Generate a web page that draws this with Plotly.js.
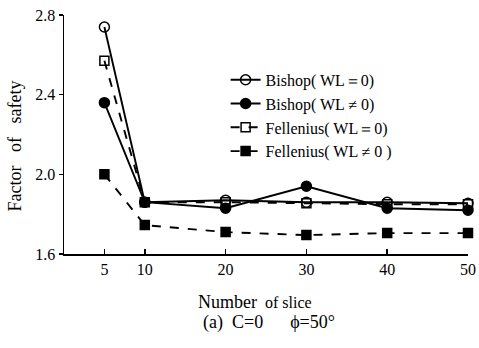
<!DOCTYPE html>
<html>
<head>
<meta charset="utf-8">
<script src="https://cdn.plot.ly/plotly-3.0.1.min.js"></script>
<style>html,body{margin:0;padding:0;background:#fff;}#chart{width:479px;height:348px;}</style>
</head>
<body>
<div id="chart"></div>
<script>
const slices = [5, 10, 20, 30, 40, 50];
const bishopDry = [2.74, 1.86, 1.87, 1.86, 1.86, 1.855];
const bishopWet = [2.36, 1.86, 1.83, 1.94, 1.83, 1.82];
const felleniusDry = [2.57, 1.86, 1.86, 1.855, 1.85, 1.85];
const felleniusWet = [2.00, 1.745, 1.71, 1.695, 1.705, 1.705];
const seriesNames = ['Bishop( WL＝0)', 'Bishop( WL ≠ 0)', 'Fellenius( WL＝0)', 'Fellenius( WL ≠ 0 )'];
const yTicks = [1.6, 2.0, 2.4, 2.8];
const yTickText = ['1.6', '2.0', '2.4', '2.8'];
const NB = '\u00a0';

const FONT = "'Liberation Serif', 'Times New Roman', 'DejaVu Serif', serif";
function tr(y, name, symbol, dash) {
  return {
    x: slices, y: y, name: name, type: 'scatter', mode: 'lines+markers',
    cliponaxis: false,
    line: {color: '#000', width: 1.9, dash: dash},
    marker: {symbol: symbol, size: symbol.indexOf('square') === 0 ? 9 : 10, color: '#000',
             line: {color: '#000', width: 1.5}}
  };
}
const data = [
  tr(bishopDry, seriesNames[0], 'circle-open', 'solid'),
  tr(bishopWet, seriesNames[1], 'circle', 'solid'),
  tr(felleniusDry, seriesNames[2], 'square-open', 'dash'),
  tr(felleniusWet, seriesNames[3], 'square', 'dash')
];
const layout = {
  width: 479, height: 348,
  margin: {l: 64, r: 11, t: 15, b: 94},
  paper_bgcolor: '#fff', plot_bgcolor: '#fff',
  font: {family: FONT, size: 15, color: '#000'},
  showlegend: true,
  legend: {x: 0.40, y: 0.80, xanchor: 'left', yanchor: 'top', bgcolor: 'rgba(0,0,0,0)',
           font: {family: FONT, size: 16, color: '#000'}, tracegroupgap: 0},
  xaxis: {
    range: [0, 50], tickvals: slices, ticktext: slices.map(String),
    showgrid: false, zeroline: false, showline: true, linecolor: '#000', linewidth: 1.5,
    ticks: 'inside', ticklen: 5, tickcolor: '#000', tickwidth: 1.5,
    tickfont: {family: FONT, size: 16, color: '#000'}
  },
  yaxis: {
    range: [1.6, 2.8], tickvals: yTicks, ticktext: yTickText,
    showgrid: false, zeroline: false, showline: true, linecolor: '#000', linewidth: 1.5,
    ticks: 'outside', ticklen: 4, tickcolor: '#000', tickwidth: 1.5,
    tickfont: {family: FONT, size: 16, color: '#000'}
  },
  annotations: [
    {text: 'Factor' + NB + NB + NB + 'of' + NB + NB + NB + 'safety', textangle: -90,
     xref: 'paper', yref: 'paper', x: -0.121, y: 0.45, xanchor: 'center', yanchor: 'middle',
     showarrow: false, font: {family: FONT, size: 18, color: '#000'}},
    {text: '<span style="font-size:18px">Number</span>' + NB + NB + 'of' + NB + 'slice',
     xref: 'paper', yref: 'paper', x: 0.473, y: -0.20, xanchor: 'center', yanchor: 'middle',
     showarrow: false, font: {family: FONT, size: 16, color: '#000'}},
    {text: '(a)' + NB + NB + 'C=0' + NB + NB + NB + NB + NB + NB + 'ϕ=50°',
     xref: 'paper', yref: 'paper', x: 0.507, y: -0.285, xanchor: 'center', yanchor: 'middle',
     showarrow: false, font: {family: FONT, size: 18, color: '#000'}}
  ]
};
Plotly.newPlot('chart', data, layout, {displayModeBar: false, staticPlot: true});
</script>
</body>
</html>
